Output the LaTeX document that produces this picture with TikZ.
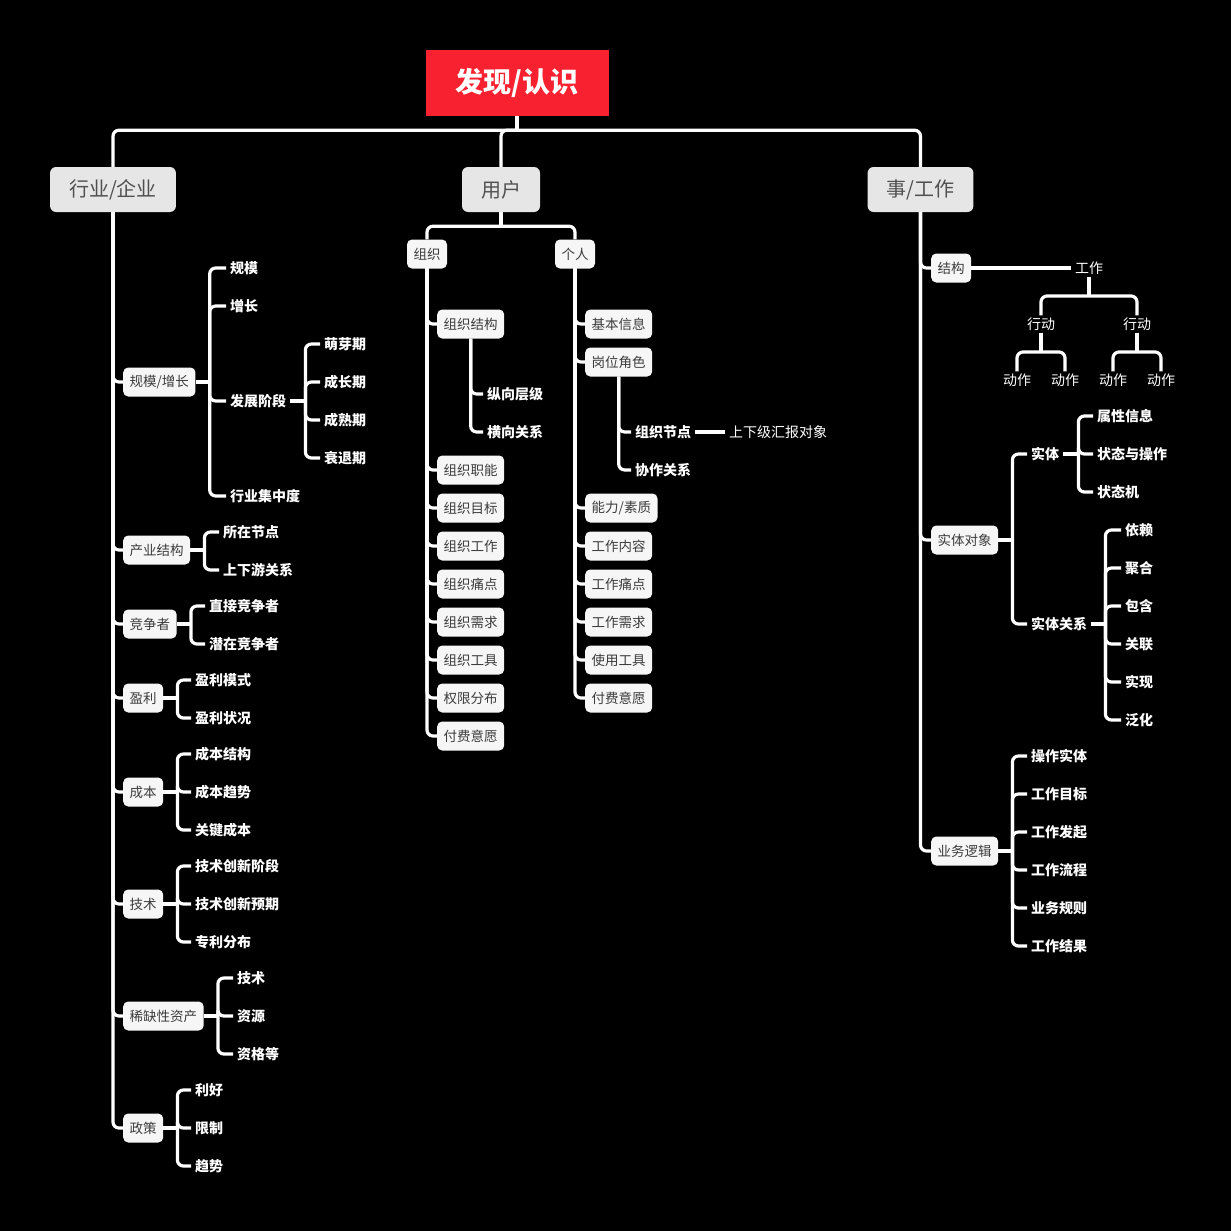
\documentclass[tikz,border=0pt]{standalone}
\usepackage{fontspec}
\setmainfont{Noto Sans CJK SC}
\definecolor{rootred}{RGB}{247,33,47}
\definecolor{lonefill}{RGB}{230,230,230}
\definecolor{lonetext}{RGB}{80,80,80}
\definecolor{ltwofill}{RGB}{246,246,246}
\definecolor{ltwotext}{RGB}{60,60,60}
\tikzset{
  rootbox/.style={fill=rootred, text=white, font=\fontsize{28}{30}\selectfont\bfseries, minimum width=183, minimum height=66, inner sep=0},
  lone/.style={fill=lonefill, text=lonetext, rounded corners=6, font=\fontsize{20}{22}\selectfont, minimum height=45, inner xsep=19, inner ysep=0},
  ltwo/.style={fill=ltwofill, text=ltwotext, rounded corners=5, font=\fontsize{13.5}{15}\selectfont, minimum height=29, inner xsep=6.5, inner ysep=0, anchor=west},
  leaf/.style={text=white, font=\fontsize{14}{16}\selectfont\bfseries, inner xsep=4, inner ysep=2, anchor=west},
  leafr/.style={text=white, font=\fontsize{14}{16}\selectfont, inner xsep=4, inner ysep=2},
  conn/.style={draw=white, line width=3.2, rounded corners=6},
}
\begin{document}
\begin{tikzpicture}[x=1pt,y=-1pt]
\fill[black] (0,0) rectangle (1231,1231);
\useasboundingbox (0,0) rectangle (1231,1231);

% root and level 1
\node[rootbox] (root) at (517,83) {发现/认识};
\node[lone] (ind) at (113,189.5) {行业/企业};
\node[lone] (usr) at (501,189.5) {用户};
\node[lone] (job) at (920.5,189.5) {事/工作};
\draw[conn] (root.south) -- ++(0,14) coordinate (rj);
\foreach \c in {ind,usr,job} \draw[conn] (rj) -| (\c.north);

% ---------------- 行业/企业 ----------------
\node[ltwo] (gm) at (123,382) {规模/增长};
\node[ltwo] (cy) at (123,550) {产业结构};
\node[ltwo] (jz) at (123,624) {竞争者};
\node[ltwo] (yl) at (123,698) {盈利};
\node[ltwo] (cb) at (123,792) {成本};
\node[ltwo] (js) at (123,904) {技术};
\node[ltwo] (xq) at (123,1016) {稀缺性资产};
\node[ltwo] (zc) at (123,1128) {政策};
\foreach \c in {gm,cy,jz,yl,cb,js,xq,zc} \draw[conn] (ind.south) |- (\c.west);

\node[leaf] (gm1) at (226,268) {规模};
\node[leaf] (gm2) at (226,306) {增长};
\node[leaf] (gm3) at (226,401) {发展阶段};
\node[leaf] (gm4) at (226,496) {行业集中度};
\draw[conn] (gm.east) -- ++(14,0) coordinate (gmj);
\foreach \c in {gm1,gm2,gm3,gm4} \draw[conn] (gmj) |- (\c.west);

\node[leaf] (fz1) at (320,344) {萌芽期};
\node[leaf] (fz2) at (320,382) {成长期};
\node[leaf] (fz3) at (320,420) {成熟期};
\node[leaf] (fz4) at (320,458) {衰退期};
\draw[conn] (gm3.east) -- ++(15,0) coordinate (fzj);
\foreach \c in {fz1,fz2,fz3,fz4} \draw[conn] (fzj) |- (\c.west);

\node[leaf] (cy1) at (219,532) {所在节点};
\node[leaf] (cy2) at (219,570) {上下游关系};
\draw[conn] (cy.east) -- ++(14,0) coordinate (cyj);
\foreach \c in {cy1,cy2} \draw[conn] (cyj) |- (\c.west);

\node[leaf] (jz1) at (205,606) {直接竞争者};
\node[leaf] (jz2) at (205,644) {潜在竞争者};
\draw[conn] (jz.east) -- ++(14,0) coordinate (jzj);
\foreach \c in {jz1,jz2} \draw[conn] (jzj) |- (\c.west);

\node[leaf] (yl1) at (191,680) {盈利模式};
\node[leaf] (yl2) at (191,718) {盈利状况};
\draw[conn] (yl.east) -- ++(14,0) coordinate (ylj);
\foreach \c in {yl1,yl2} \draw[conn] (ylj) |- (\c.west);

\node[leaf] (cb1) at (191,754) {成本结构};
\node[leaf] (cb2) at (191,792) {成本趋势};
\node[leaf] (cb3) at (191,830) {关键成本};
\draw[conn] (cb.east) -- ++(14,0) coordinate (cbj);
\foreach \c in {cb1,cb2,cb3} \draw[conn] (cbj) |- (\c.west);

\node[leaf] (js1) at (191,866) {技术创新阶段};
\node[leaf] (js2) at (191,904) {技术创新预期};
\node[leaf] (js3) at (191,942) {专利分布};
\draw[conn] (js.east) -- ++(14,0) coordinate (jsj);
\foreach \c in {js1,js2,js3} \draw[conn] (jsj) |- (\c.west);

\node[leaf] (xq1) at (233,978) {技术};
\node[leaf] (xq2) at (233,1016) {资源};
\node[leaf] (xq3) at (233,1054) {资格等};
\draw[conn] (xq.east) -- ++(14,0) coordinate (xqj);
\foreach \c in {xq1,xq2,xq3} \draw[conn] (xqj) |- (\c.west);

\node[leaf] (zc1) at (191,1090) {利好};
\node[leaf] (zc2) at (191,1128) {限制};
\node[leaf] (zc3) at (191,1166) {趋势};
\draw[conn] (zc.east) -- ++(14,0) coordinate (zcj);
\foreach \c in {zc1,zc2,zc3} \draw[conn] (zcj) |- (\c.west);

% ---------------- 用户 ----------------
\node[ltwo, anchor=center] (org) at (427,254) {组织};
\node[ltwo, anchor=center] (per) at (575,254) {个人};
\draw[conn] (usr.south) -- ++(0,14) coordinate (uj);
\foreach \c in {org,per} \draw[conn] (uj) -| (\c.north);

\node[ltwo] (o1) at (437,324) {组织结构};
\node[ltwo] (o2) at (437,470) {组织职能};
\node[ltwo] (o3) at (437,508) {组织目标};
\node[ltwo] (o4) at (437,546) {组织工作};
\node[ltwo] (o5) at (437,584) {组织痛点};
\node[ltwo] (o6) at (437,622) {组织需求};
\node[ltwo] (o7) at (437,660) {组织工具};
\node[ltwo] (o8) at (437,698) {权限分布};
\node[ltwo] (o9) at (437,736) {付费意愿};
\foreach \c in {o1,o2,o3,o4,o5,o6,o7,o8,o9} \draw[conn] (org.south) |- (\c.west);

\node[leaf] (o11) at (483,394) {纵向层级};
\node[leaf] (o12) at (483,432) {横向关系};
\foreach \c in {o11,o12} \draw[conn] (o1.south) |- (\c.west);

\node[ltwo] (p1) at (585,324) {基本信息};
\node[ltwo] (p2) at (585,362) {岗位角色};
\node[ltwo] (p3) at (585,508) {能力/素质};
\node[ltwo] (p4) at (585,546) {工作内容};
\node[ltwo] (p5) at (585,584) {工作痛点};
\node[ltwo] (p6) at (585,622) {工作需求};
\node[ltwo] (p7) at (585,660) {使用工具};
\node[ltwo] (p8) at (585,698) {付费意愿};
\foreach \c in {p1,p2,p3,p4,p5,p6,p7,p8} \draw[conn] (per.south) |- (\c.west);

\node[leaf] (p21) at (631,432) {组织节点};
\node[leaf] (p22) at (631,470) {协作关系};
\foreach \c in {p21,p22} \draw[conn] (p2.south) |- (\c.west);
\node[leafr, anchor=west] (p211) at (725,432) {上下级汇报对象};
\draw[conn] (p21.east) -- (p211.west);

% ---------------- 事/工作 ----------------
\node[ltwo] (w1) at (931,268) {结构};
\node[ltwo] (w2) at (931,540) {实体对象};
\node[ltwo] (w3) at (931,851) {业务逻辑};
\foreach \c in {w1,w2,w3} \draw[conn] (job.south) |- (\c.west);

\node[leafr] (gz) at (1089,268) {工作};
\draw[conn] (w1.east) -- (gz.west);
\node[leafr] (xd1) at (1041,324) {行动};
\node[leafr] (xd2) at (1137,324) {行动};
\coordinate (gzj) at (1089,296);
\draw[conn] (gz.south) -- (gzj);
\foreach \c in {xd1,xd2} \draw[conn] (gzj) -| (\c.north);
\node[leafr] (dz1) at (1017,380) {动作};
\node[leafr] (dz2) at (1065,380) {动作};
\node[leafr] (dz3) at (1113,380) {动作};
\node[leafr] (dz4) at (1161,380) {动作};
\coordinate (xj1) at (1041,352);
\coordinate (xj2) at (1137,352);
\draw[conn] (xd1.south) -- (xj1);
\draw[conn] (xd2.south) -- (xj2);
\foreach \c in {dz1,dz2} \draw[conn] (xj1) -| (\c.north);
\foreach \c in {dz3,dz4} \draw[conn] (xj2) -| (\c.north);

\node[leaf] (st) at (1027,454) {实体};
\node[leaf] (sg) at (1027,624) {实体关系};
\draw[conn] (w2.east) -- ++(14,0) coordinate (w2j);
\foreach \c in {st,sg} \draw[conn] (w2j) |- (\c.west);

\node[leaf] (st1) at (1093,416) {属性信息};
\node[leaf] (st2) at (1093,454) {状态与操作};
\node[leaf] (st3) at (1093,492) {状态机};
\draw[conn] (st.east) -- ++(15,0) coordinate (stj);
\foreach \c in {st1,st2,st3} \draw[conn] (stj) |- (\c.west);

\node[leaf] (sg1) at (1121,530) {依赖};
\node[leaf] (sg2) at (1121,568) {聚合};
\node[leaf] (sg3) at (1121,606) {包含};
\node[leaf] (sg4) at (1121,644) {关联};
\node[leaf] (sg5) at (1121,682) {实现};
\node[leaf] (sg6) at (1121,720) {泛化};
\draw[conn] (sg.east) -- ++(14,0) coordinate (sgj);
\foreach \c in {sg1,sg2,sg3,sg4,sg5,sg6} \draw[conn] (sgj) |- (\c.west);

\node[leaf] (yw1) at (1027,756) {操作实体};
\node[leaf] (yw2) at (1027,794) {工作目标};
\node[leaf] (yw3) at (1027,832) {工作发起};
\node[leaf] (yw4) at (1027,870) {工作流程};
\node[leaf] (yw5) at (1027,908) {业务规则};
\node[leaf] (yw6) at (1027,946) {工作结果};
\draw[conn] (w3.east) -- ++(14,0) coordinate (w3j);
\foreach \c in {yw1,yw2,yw3,yw4,yw5,yw6} \draw[conn] (w3j) |- (\c.west);
\end{tikzpicture}
\end{document}
